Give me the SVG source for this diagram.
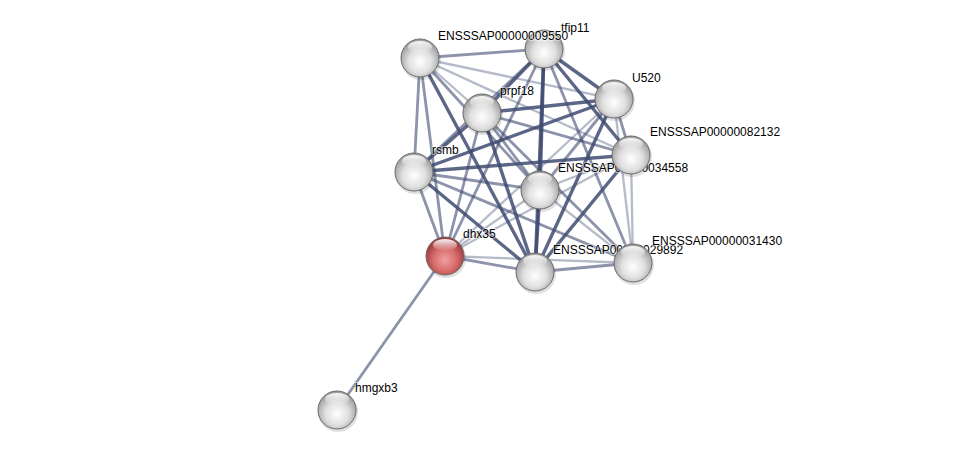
<svg xmlns="http://www.w3.org/2000/svg" width="975" height="455" viewBox="0 0 975 455">
<defs>
<radialGradient id="gw" cx="50%" cy="60%" r="55%">
<stop offset="0" stop-color="#ffffff"/>
<stop offset="0.55" stop-color="#e0e0e0"/>
<stop offset="1" stop-color="#a0a0a0"/>
</radialGradient>
<radialGradient id="gr" cx="50%" cy="60%" r="55%">
<stop offset="0" stop-color="#f0a0a0"/>
<stop offset="0.55" stop-color="#d86c6c"/>
<stop offset="1" stop-color="#9e3a3a"/>
</radialGradient>
<linearGradient id="hl" x1="0" y1="0" x2="0" y2="1">
<stop offset="0" stop-color="#ffffff" stop-opacity="0.95"/>
<stop offset="1" stop-color="#ffffff" stop-opacity="0"/>
</linearGradient>
</defs>
<style>
.e{stroke:#3f4b72;fill:none;stroke-linecap:butt}
.s{stroke-width:3.4;stroke-opacity:0.85}
.m{stroke-width:2.8;stroke-opacity:0.6}
.l{stroke-width:2.3;stroke-opacity:0.38}
.n{stroke:#6a6a6a;stroke-width:1}
.sh{fill:#000;fill-opacity:0.12}
.t{font-family:"Liberation Sans",Arial,sans-serif;font-size:12px;fill:#000;paint-order:stroke;stroke:#fff;stroke-width:2px;stroke-opacity:0.5}
</style>
<rect width="975" height="455" fill="#fff"/>
<g id="edges">
<line class="e m" x1="420" y1="58" x2="544" y2="49"/>
<line class="e l" x1="420" y1="58" x2="614" y2="99"/>
<line class="e l" x1="420" y1="58" x2="482" y2="113"/>
<line class="e l" x1="420" y1="58" x2="631" y2="155"/>
<line class="e m" x1="420" y1="58" x2="414" y2="172"/>
<line class="e m" x1="420" y1="58" x2="540" y2="190"/>
<line class="e m" x1="420" y1="58" x2="445" y2="256"/>
<line class="e s" x1="420" y1="58" x2="535" y2="272"/>
<line class="e s" x1="544" y1="49" x2="614" y2="99"/>
<line class="e s" x1="544" y1="49" x2="482" y2="113"/>
<line class="e s" x1="544" y1="49" x2="631" y2="155"/>
<line class="e m" x1="544" y1="49" x2="414" y2="172"/>
<line class="e s" x1="544" y1="49" x2="540" y2="190"/>
<line class="e s" x1="544" y1="49" x2="535" y2="272"/>
<line class="e m" x1="544" y1="49" x2="445" y2="256"/>
<line class="e m" x1="544" y1="49" x2="633" y2="263"/>
<line class="e s" x1="614" y1="99" x2="482" y2="113"/>
<line class="e s" x1="614" y1="99" x2="414" y2="172"/>
<line class="e m" x1="614" y1="99" x2="631" y2="155"/>
<line class="e m" x1="614" y1="99" x2="540" y2="190"/>
<line class="e s" x1="614" y1="99" x2="535" y2="272"/>
<line class="e l" x1="614" y1="99" x2="445" y2="256"/>
<line class="e l" x1="614" y1="99" x2="633" y2="263"/>
<line class="e m" x1="482" y1="113" x2="631" y2="155"/>
<line class="e s" x1="482" y1="113" x2="414" y2="172"/>
<line class="e m" x1="482" y1="113" x2="540" y2="190"/>
<line class="e s" x1="482" y1="113" x2="535" y2="272"/>
<line class="e m" x1="482" y1="113" x2="445" y2="256"/>
<line class="e m" x1="482" y1="113" x2="633" y2="263"/>
<line class="e s" x1="631" y1="155" x2="414" y2="172"/>
<line class="e l" x1="631" y1="155" x2="540" y2="190"/>
<line class="e s" x1="631" y1="155" x2="535" y2="272"/>
<line class="e l" x1="631" y1="155" x2="445" y2="256"/>
<line class="e l" x1="631" y1="155" x2="633" y2="263"/>
<line class="e m" x1="414" y1="172" x2="540" y2="190"/>
<line class="e s" x1="414" y1="172" x2="535" y2="272"/>
<line class="e m" x1="414" y1="172" x2="445" y2="256"/>
<line class="e m" x1="414" y1="172" x2="633" y2="263"/>
<line class="e s" x1="540" y1="190" x2="535" y2="272"/>
<line class="e l" x1="540" y1="190" x2="445" y2="256"/>
<line class="e l" x1="540" y1="190" x2="633" y2="263"/>
<line class="e m" x1="445" y1="256" x2="535" y2="272"/>
<line class="e l" x1="445" y1="256" x2="633" y2="263"/>
<line class="e m" x1="535" y1="272" x2="633" y2="263"/>
<line class="e m" x1="445" y1="256" x2="337" y2="410"/>
</g>
<g id="n-tfip11"><circle class="sh" cx="545" cy="51" r="20"/><circle class="n" cx="544" cy="49" r="19" fill="url(#gw)"/><ellipse cx="544" cy="38" rx="12" ry="6" fill="url(#hl)"/><text class="t" x="561" y="32">tfip11</text></g>
<g id="n-ENSSSAP00000009550"><circle class="sh" cx="421" cy="60" r="20"/><circle class="n" cx="420" cy="58" r="19" fill="url(#gw)"/><ellipse cx="420" cy="47" rx="12" ry="6" fill="url(#hl)"/><text class="t" x="438" y="40">ENSSSAP00000009550</text></g>
<g id="n-U520"><circle class="sh" cx="615" cy="101" r="20"/><circle class="n" cx="614" cy="99" r="19" fill="url(#gw)"/><ellipse cx="614" cy="88" rx="12" ry="6" fill="url(#hl)"/><text class="t" x="632" y="82">U520</text></g>
<g id="n-prpf18"><circle class="sh" cx="483" cy="115" r="20"/><circle class="n" cx="482" cy="113" r="19" fill="url(#gw)"/><ellipse cx="482" cy="102" rx="12" ry="6" fill="url(#hl)"/><text class="t" x="500" y="95">prpf18</text></g>
<g id="n-rsmb"><circle class="sh" cx="415" cy="174" r="20"/><circle class="n" cx="414" cy="172" r="19" fill="url(#gw)"/><ellipse cx="414" cy="161" rx="12" ry="6" fill="url(#hl)"/><text class="t" x="432" y="154">rsmb</text></g>
<g id="n-ENSSSAP00000034558"><circle class="sh" cx="541" cy="192" r="20"/><circle class="n" cx="540" cy="190" r="19" fill="url(#gw)"/><ellipse cx="540" cy="179" rx="12" ry="6" fill="url(#hl)"/><text class="t" x="558" y="172">ENSSSAP00000034558</text></g>
<g id="n-ENSSSAP00000082132"><circle class="sh" cx="632" cy="157" r="20"/><circle class="n" cx="631" cy="155" r="19" fill="url(#gw)"/><ellipse cx="631" cy="144" rx="12" ry="6" fill="url(#hl)"/><text class="t" x="650" y="136">ENSSSAP00000082132</text></g>
<g id="n-ENSSSAP00000029892"><circle class="sh" cx="536" cy="274" r="20"/><circle class="n" cx="535" cy="272" r="19" fill="url(#gw)"/><ellipse cx="535" cy="261" rx="12" ry="6" fill="url(#hl)"/><text class="t" x="553" y="254">ENSSSAP00000029892</text></g>
<g id="n-ENSSSAP00000031430"><circle class="sh" cx="634" cy="265" r="20"/><circle class="n" cx="633" cy="263" r="19" fill="url(#gw)"/><ellipse cx="633" cy="252" rx="12" ry="6" fill="url(#hl)"/><text class="t" x="652" y="245">ENSSSAP00000031430</text></g>
<g id="n-dhx35"><circle class="sh" cx="446" cy="258" r="20"/><circle class="n" cx="445" cy="256" r="19" fill="url(#gr)" stroke="#7a3030"/><ellipse cx="445" cy="245" rx="12" ry="6" fill="url(#hl)"/><text class="t" x="463" y="238">dhx35</text></g>
<g id="n-hmgxb3"><circle class="sh" cx="338" cy="412" r="20"/><circle class="n" cx="337" cy="410" r="19" fill="url(#gw)"/><ellipse cx="337" cy="399" rx="12" ry="6" fill="url(#hl)"/><text class="t" x="355" y="392">hmgxb3</text></g>
</svg>
